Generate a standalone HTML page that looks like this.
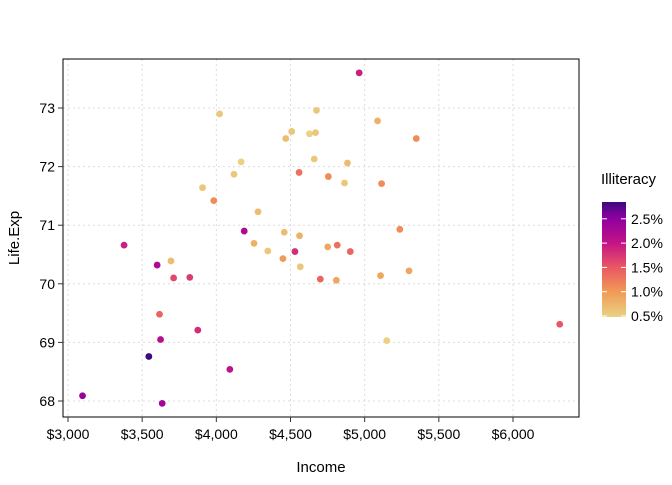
<!DOCTYPE html>
<html><head><meta charset="utf-8"><style>
body{margin:0;background:#fff;}
text{font-family:"Liberation Sans",Arial,sans-serif;}
</style></head><body>
<svg id="chart" width="672" height="480" xmlns="http://www.w3.org/2000/svg">
<defs><linearGradient id="cb" x1="0" y1="1" x2="0" y2="0">
<stop offset="0" stop-color="#e9d283"/><stop offset="0.22" stop-color="#f09a56"/><stop offset="0.43" stop-color="#ea5863"/><stop offset="0.65" stop-color="#c21288"/><stop offset="0.87" stop-color="#8a00a0"/><stop offset="1" stop-color="#3a0a80"/></linearGradient></defs>
<g id="grid"></g>
<g id="points"></g>
<rect x="63" y="59" width="516" height="358" fill="none" stroke="#000" stroke-width="1"/>
<g id="axes"></g>
<text x="321" y="472" font-size="15" text-anchor="middle">Income</text>
<text transform="translate(19,238) rotate(-90)" font-size="15" text-anchor="middle">Life.Exp</text>
<g>
<text x="601" y="184" font-size="15">Illiteracy</text>
<rect x="602" y="202" width="24" height="115" fill="url(#cb)"/>
<g id="legend-ticks"></g>
</g>
</svg>
<script>
const states=["AL","AK","AZ","AR","CA","CO","CT","DE","FL","GA","HI","ID","IL","IN","IA","KS","KY","LA","ME","MD","MA","MI","MN","MS","MO","MT","NE","NV","NH","NJ","NM","NY","NC","ND","OH","OK","OR","PA","RI","SC","SD","TN","TX","UT","VT","VA","WA","WV","WI","WY"];
const income=[3624,6315,4530,3378,5114,4884,5348,4809,4815,4091,4963,4119,5107,4458,4628,4669,3712,3545,3694,5299,4755,4751,4675,3098,4254,4347,4508,5149,4281,5237,3601,4903,3875,5087,4561,3983,4660,4449,4558,3635,4167,3821,4188,4022,3907,4701,4864,3617,4468,4566];
const lifeExp=[69.05,69.31,70.55,70.66,71.71,72.06,72.48,70.06,70.66,68.54,73.60,71.87,70.14,70.88,72.56,72.58,70.10,68.76,70.39,70.22,71.83,70.63,72.96,68.09,70.69,70.56,72.60,69.03,71.23,70.93,70.32,70.55,69.21,72.78,70.82,71.42,72.13,70.43,71.90,67.96,72.08,70.11,70.90,72.90,71.64,70.08,71.72,69.48,72.48,70.29];
const illiteracy=[2.1,1.5,1.8,1.9,1.1,0.7,1.1,0.9,1.3,2.0,1.9,0.6,0.9,0.7,0.5,0.6,1.6,2.8,0.7,0.9,1.1,0.9,0.6,2.4,0.8,0.6,0.6,0.5,0.7,1.1,2.2,1.4,1.8,0.8,0.8,1.1,0.6,1.0,1.3,2.3,0.5,1.7,2.2,0.6,0.6,1.4,0.6,1.4,0.7,0.6];
const xTicks=[3000,3500,4000,4500,5000,5500,6000];
const xTickLabels=["$3,000","$3,500","$4,000","$4,500","$5,000","$5,500","$6,000"];
const yTicks=[68,69,70,71,72,73];
const legendTicks=[0.5,1.0,1.5,2.0,2.5];
const legendLabels=["0.5%","1.0%","1.5%","2.0%","2.5%"];
const NS="http://www.w3.org/2000/svg";
const xs=v=>68+(v-3000)*(445/3000);
const ys=v=>401-(v-68)*(293/5);
const cmin=Math.min(...illiteracy),cmax=Math.max(...illiteracy);
const ls=v=>316-(v-cmin)*48.6;
const stops=[[0,[233,210,131]],[0.22,[240,154,86]],[0.43,[234,88,99]],[0.65,[194,18,136]],[0.87,[138,0,160]],[1,[58,10,128]]];
function col(v){const t=(v-cmin)/(cmax-cmin);for(let i=1;i<stops.length;i++){if(t<=stops[i][0]){const a=stops[i-1],b=stops[i],f=(t-a[0])/(b[0]-a[0]);return "rgb("+a[1].map((c,k)=>Math.round(c+(b[1][k]-c)*f)).join(",")+")";}}return "rgb(58,10,128)";}
function mk(tag,attrs,parent){const e=document.createElementNS(NS,tag);for(const k in attrs)e.setAttribute(k,attrs[k]);parent.appendChild(e);return e;}
const grid=document.getElementById("grid"),axes=document.getElementById("axes"),pts=document.getElementById("points"),lt=document.getElementById("legend-ticks");
xTicks.forEach((t,i)=>{
 const g=mk("line",{x1:xs(t),x2:xs(t),y1:59,y2:417,stroke:"#dcdcdc","stroke-dasharray":"2,3"},grid);
 
 
 const tk=mk("line",{x1:xs(t),x2:xs(t),y1:417,y2:422,stroke:"#333"},axes);
 
 
 const tx=mk("text",{x:xs(t),y:439,"font-size":"14","text-anchor":"middle",fill:"#000"},axes);
 tx.textContent=xTickLabels[i];
 
 
});
yTicks.forEach(t=>{
 const g=mk("line",{x1:63,x2:579,y1:ys(t),y2:ys(t),stroke:"#dcdcdc","stroke-dasharray":"2,3"},grid);
 
 
 const tk=mk("line",{x1:58,x2:63,y1:ys(t),y2:ys(t),stroke:"#333"},axes);
 
 
 const tx=mk("text",{x:55,y:ys(t)+5,"font-size":"14","text-anchor":"end",fill:"#000"},axes);
 tx.textContent=t;
 
 
});
income.forEach((v,i)=>{
 const c=mk("circle",{cx:xs(v),cy:ys(lifeExp[i]),r:3.4,fill:col(illiteracy[i])},pts);
 
 
});
legendTicks.forEach((t,i)=>{
 const y=ls(t);
 const a=mk("line",{x1:602,x2:607,y1:y,y2:y,stroke:"#fff"},lt);
 
 
 const b=mk("line",{x1:621,x2:626,y1:y,y2:y,stroke:"#fff"},lt);
 
 
 const tx=mk("text",{x:631,y:y+5,"font-size":"14",fill:"#000"},lt);
 tx.textContent=legendLabels[i];
 
 
});
</script>
</body></html>
